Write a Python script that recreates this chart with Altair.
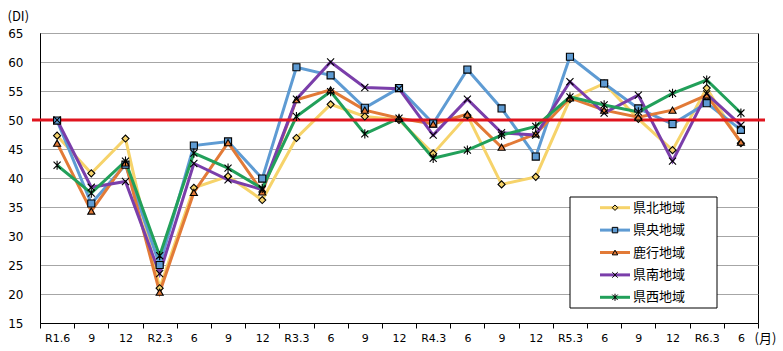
import altair as alt
import pandas as pd

periods = ["R1.6", "9", "12", "R2.3", "6", "9", "12", "R3.3", "6", "9", "12",
           "R4.3", "6", "9", "12", "R5.3", "6", "9", "12", "R6.3", "6"]
regions = ["県北地域", "県央地域", "鹿行地域", "県南地域", "県西地域"]

kenpoku = [47.3, 40.8, 46.8, 21.0, 38.3, 40.3, 36.2, 46.9, 52.7, 50.6, 50.0,
           44.2, 50.8, 38.9, 40.2, 53.6, 56.3, 50.2, 44.8, 55.5, 46.0]
kenou = [49.9, 35.6, 42.3, 25.0, 45.6, 46.3, 39.9, 59.1, 57.7, 52.1, 55.5,
         49.4, 58.7, 52.0, 43.7, 60.9, 56.3, 52.0, 49.3, 52.9, 48.3]
rokko = [46.0, 34.3, 42.6, 20.3, 37.5, 46.1, 37.6, 53.5, 55.2, 51.7, 50.3,
         49.3, 51.0, 45.3, 47.6, 53.8, 51.7, 50.5, 51.7, 54.3, 46.2]
kennan = [50.0, 38.4, 39.4, 23.5, 42.5, 39.7, 38.0, 53.6, 60.0, 55.6, 55.4,
          47.4, 53.6, 47.8, 47.4, 56.6, 51.2, 54.3, 42.9, 54.5, 49.1]
kensei = [42.2, 37.4, 42.9, 26.6, 44.3, 41.7, 38.2, 50.6, 54.9, 47.6, 50.3,
          43.4, 44.8, 47.4, 48.9, 54.0, 52.6, 51.4, 54.6, 56.9, 51.2]
series = [kenpoku, kenou, rokko, kennan, kensei]
reference_level = 50
y_ticks = [15, 20, 25, 30, 35, 40, 45, 50, 55, 60, 65]

colors = ["#F6D36A", "#5E9BD3", "#E27A37", "#7A3EAA", "#22A05A"]
XPATH = "M-1,-1L1,1M-1,1L1,-1"
STAR = "M-1,-1L1,1M-1,1L1,-1M0,-1.3L0,1.3"
shapes = ["diamond", "square", "triangle-up", XPATH, STAR]

rows = []
for r, vals in zip(regions, series):
    for i, v in enumerate(vals):
        rows.append({"region": r, "idx": i, "value": v})
df = pd.DataFrame(rows)
legend_df = pd.DataFrame({"region": regions})

FONT = "DejaVu Sans"
JFONT = "Noto Sans CJK JP"

label_expr = "[" + ",".join(f"'{p}'" for p in periods) + "][datum.value]"

color_scale = alt.Scale(domain=regions, range=colors)
shape_scale = alt.Scale(domain=regions, range=shapes)

x_enc = alt.X(
    "idx:O",
    scale=alt.Scale(type="band", paddingInner=0, paddingOuter=0),
    bandPosition=0.5,
    axis=alt.Axis(
        labelExpr=label_expr, labelAngle=0, labelFont=FONT, labelFontSize=11,
        labelColor="black", labelPadding=4, tickBand="extent", ticks=True,
        tickColor="black", tickSize=5, domainColor="black", grid=False,
        title="(月)", titleFont=JFONT, titleFontSize=13, titleFontWeight="normal",
        titleX=725, titleY=15, titleAlign="center", titleBaseline="middle",
    ),
)
y_enc = alt.Y(
    "value:Q",
    scale=alt.Scale(domain=[15, 65], nice=False, zero=False),
    axis=alt.Axis(
        values=y_ticks, tickCount=len(y_ticks), grid=True, gridColor="#A6A6A6",
        gridWidth=1, domainColor="black", ticks=False, labelPadding=17,
        labelFont=FONT, labelFontSize=12, labelColor="black", labelOverlap=False,
        title="(DI)", titleFont=JFONT, titleFontSize=13, titleFontWeight="normal",
        titleAngle=0, titleX=-33, titleY=-17, titleAlign="left",
        titleBaseline="middle",
    ),
)

base = alt.Chart(df)

line_layers = []
point_layers = []
for r in regions:
    sub = base.transform_filter(alt.datum.region == r)
    line_layers.append(
        sub.mark_line(strokeWidth=3).encode(
            x=x_enc, y=y_enc,
            color=alt.Color("region:N", scale=color_scale, legend=None),
        )
    )
    point_layers.append(
        sub.mark_point(filled=True, size=50, stroke="black", strokeWidth=1.1,
                       opacity=1).encode(
            x=x_enc, y=y_enc,
            fill=alt.Fill("region:N", scale=color_scale, legend=None),
            shape=alt.Shape("region:N", scale=shape_scale, legend=None),
        )
    )

red_rule = alt.Chart(pd.DataFrame({"v": [reference_level]})).mark_rule(
    color="#E0141E", strokeWidth=3, clip=False
).encode(y=alt.Y("v:Q"), x=alt.value(-8), x2=alt.value(725))

data_layer = alt.layer(*line_layers, red_rule, *point_layers)

# legend
leg_y = alt.Y("region:N", scale=alt.Scale(type="point", domain=regions,
                                          range=[174.7, 264.3], padding=0),
              axis=None)
leg_base = alt.Chart(legend_df)
leg_box = alt.Chart(pd.DataFrame({"a": [0]})).mark_rect(
    fill="white", stroke="black", strokeWidth=1
).encode(x=alt.value(530), x2=alt.value(677), y=alt.value(164), y2=alt.value(275))
leg_lines = leg_base.mark_rule(strokeWidth=3).encode(
    x=alt.value(560), x2=alt.value(590), y=leg_y,
    color=alt.Color("region:N", scale=color_scale, legend=None),
)
leg_pts = leg_base.mark_point(filled=True, size=30, stroke="black",
                              strokeWidth=1, opacity=1).encode(
    x=alt.value(575), y=leg_y,
    fill=alt.Fill("region:N", scale=color_scale, legend=None),
    shape=alt.Shape("region:N", scale=shape_scale, legend=None),
)
leg_text = leg_base.mark_text(align="left", baseline="middle", font=JFONT,
                              fontSize=13, color="black").encode(
    x=alt.value(593), y=leg_y, text="region:N"
)
legend_layer = alt.layer(leg_box, leg_lines, leg_pts, leg_text)

chart = alt.layer(data_layer, legend_layer).resolve_scale(
    y="independent"
).properties(
    width=718, height=290,
    padding={"left": 40, "top": 33, "right": 25, "bottom": 28},
    autosize=alt.AutoSizeParams(type="none"),
    background="white",
).configure_view(stroke="black", strokeWidth=1)

chart.save("out.html", embed_options={"renderer": "svg", "actions": False})
